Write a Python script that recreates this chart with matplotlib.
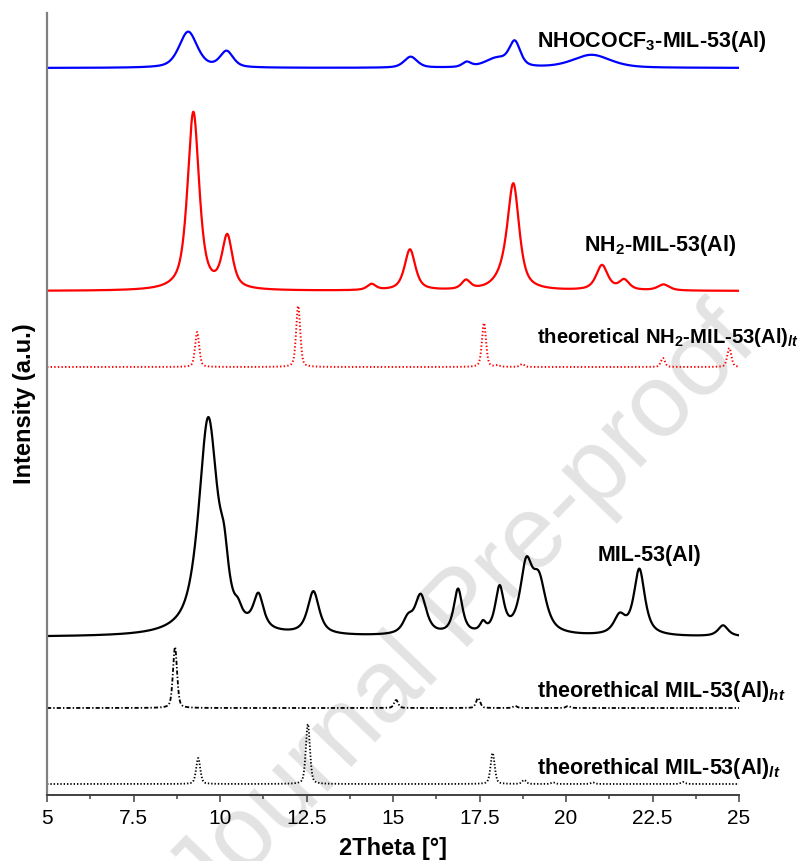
import numpy as np
import matplotlib.pyplot as plt

plt.rcParams['font.family'] = ['Liberation Sans', 'DejaVu Sans']
plt.rcParams['mathtext.fontset'] = 'custom'
plt.rcParams['mathtext.rm'] = 'Liberation Sans:bold'
plt.rcParams['mathtext.it'] = 'Liberation Sans:italic:bold'
plt.rcParams['mathtext.default'] = 'regular'
plt.rcParams['lines.scale_dashes'] = False

two_theta = np.linspace(5, 25, 4001)

# peak tables: position (deg 2theta), height (a.u.), FWHM (deg)
cf3_pos = [9.08, 10.19, 15.51, 17.13, 18.00, 18.52, 20.74]
cf3_amp = [36, 16, 11, 5, 9, 24, 13]
cf3_fwhm = [0.62, 0.45, 0.45, 0.30, 0.80, 0.38, 1.30]

nh2_pos = [9.23, 10.21, 14.38, 15.49, 17.11, 18.20, 18.48, 21.04, 21.68, 22.82]
nh2_amp = [178, 52, 6, 41, 9, 10, 102, 25, 10, 6]
nh2_fwhm = [0.40, 0.36, 0.30, 0.37, 0.30, 0.60, 0.40, 0.40, 0.35, 0.40]

nh2_lt_pos = [9.34, 12.26, 17.63, 18.02, 18.73, 22.80, 24.72]
nh2_lt_amp = [35, 61, 44, 1.5, 3, 9, 19]

mil_pos = [9.66, 10.12, 10.52, 11.11, 12.70, 15.43, 15.80, 16.88, 17.60,
           18.08, 18.85, 19.22, 21.55, 22.12, 24.54]
mil_amp = [216, 40, 10, 34, 43, 14, 39, 45, 9, 45, 64, 50, 18, 66, 11]
mil_fwhm = [0.66, 0.30, 0.25, 0.35, 0.40, 0.35, 0.40, 0.30, 0.20,
            0.30, 0.42, 0.48, 0.40, 0.38, 0.35]

mil_ht_pos = [8.70, 15.09, 17.46, 18.53, 20.06]
mil_ht_amp = [61, 8, 10, 2, 2]

mil_lt_pos = [9.37, 12.54, 17.88, 18.79, 19.63, 20.78, 23.38]
mil_lt_amp = [26, 60, 31, 4, 1.5, 1.5, 2]

theory_fwhm = 0.14

# vertical stacking offsets
off_cf3, off_nh2, off_nh2_lt = 727, 504, 428
off_mil, off_mil_ht, off_mil_lt = 158, 87, 11


def profile(pos, amp, fwhm, eta):
    if np.isscalar(fwhm):
        fwhm = [fwhm] * len(pos)
    y = np.zeros_like(two_theta)
    for p, a, w in zip(pos, amp, fwhm):
        d = (two_theta - p) / (w / 2)
        y += a * (eta / (1 + d ** 2) + (1 - eta) * np.exp(-np.log(2) * d ** 2))
    return y


fig = plt.figure(figsize=(8.02, 8.61), dpi=100)
ax = fig.add_axes([47 / 802, 66 / 861, 692 / 802, 782 / 861])
ax.patch.set_alpha(0)

fig.text(465 / 802, 1 - 612 / 861, 'Journal Pre-proof', rotation=46,
         fontsize=74, color='#e3e3e3', ha='center', va='center', zorder=-5)

ax.plot(two_theta, off_cf3 + profile(cf3_pos, cf3_amp, cf3_fwhm, 0.5),
        color='#0000ff', lw=1.6)
ax.plot(two_theta, off_nh2 + profile(nh2_pos, nh2_amp, nh2_fwhm, 0.7),
        color='#ff0000', lw=1.6)
ax.plot(two_theta, off_nh2_lt + profile(nh2_lt_pos, nh2_lt_amp, theory_fwhm, 0.4),
        color='#ff0000', lw=1.4, ls=(0, (1.0, 1.6)))
ax.plot(two_theta, off_mil + profile(mil_pos, mil_amp, mil_fwhm, 0.8),
        color='black', lw=1.6)
ax.plot(two_theta, off_mil_ht + profile(mil_ht_pos, mil_ht_amp, theory_fwhm, 0.4),
        color='black', lw=1.3, ls=(0, (3.0, 1.5, 1.0, 1.5)))
ax.plot(two_theta, off_mil_lt + profile(mil_lt_pos, mil_lt_amp, theory_fwhm, 0.4),
        color='black', lw=1.3, ls=(0, (1.0, 1.4)))

lab = dict(fontsize=15.5, fontweight='bold', va='baseline', ha='left',
           clip_on=False)
ax.text(19.16, 748, 'NHOCOCF$_3$-MIL-53(Al)', **lab)
ax.text(20.52, 544, 'NH$_2$-MIL-53(Al)', **lab)
ax.text(19.16, 452, r'theoretical NH$_2$-MIL-53(Al)$_{\mathit{lt}}$',
        **{**lab, 'fontsize': 14.6})
ax.text(20.90, 234, 'MIL-53(Al)', **lab)
ax.text(19.16, 98, r'theorethical MIL-53(Al)$_{\mathit{ht}}$', **lab)
ax.text(19.16, 21, r'theorethical MIL-53(Al)$_{\mathit{lt}}$', **lab)

ax.set_xlim(5, 25)
ax.set_ylim(0, 782)
ax.set_xticks([5, 7.5, 10, 12.5, 15, 17.5, 20, 22.5, 25])
ax.set_xticklabels(['5', '7.5', '10', '12.5', '15', '17.5', '20', '22.5', '25'])
ax.set_xticks(np.arange(5, 25.01, 1.25), minor=True)
ax.set_yticks([])
ax.tick_params(axis='x', which='major', length=5, width=1.1, pad=5,
               labelsize=15, color='#404040')
ax.tick_params(axis='x', which='minor', length=3, width=1.1, color='#404040')
for s in ('top', 'right'):
    ax.spines[s].set_visible(False)
ax.spines['left'].set_color('#808080')
ax.spines['left'].set_linewidth(1.6)
ax.spines['bottom'].set_color('#404040')
ax.spines['bottom'].set_linewidth(1.4)

ax.set_xlabel('2Theta [°]', fontsize=17, fontweight='bold', labelpad=6.5)
ax.set_ylabel('Intensity (a.u.)', fontsize=17, fontweight='bold')
ax.yaxis.set_label_coords(-0.016, 0.5)

fig.savefig('out.png', dpi=100)
